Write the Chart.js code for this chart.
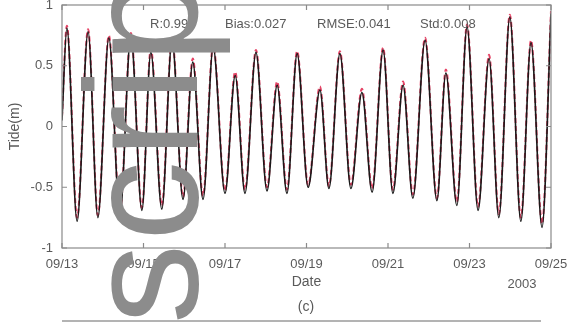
<!DOCTYPE html>
<html>
<head>
<meta charset="utf-8">
<script src="https://cdn.jsdelivr.net/npm/chart.js@4/dist/chart.umd.min.js"></script>
<style>
  html, body { margin: 0; padding: 0; background: #ffffff; }
  #wrap { width: 571px; height: 324px; position: relative; }
</style>
</head>
<body>
<div id="wrap"><canvas id="c" width="571" height="324"></canvas></div>
<script>
// Time of each high / low water, in days after 09/13 00:00
const dayOffsets = [0, 0.12, 0.37, 0.64, 0.88, 1.15, 1.42, 1.69, 1.96, 2.18, 2.45, 2.70, 2.97, 3.21, 3.46, 3.71, 4.00, 4.25, 4.49, 4.76, 5.03, 5.28, 5.52, 5.77, 6.04, 6.33, 6.55, 6.82, 7.09, 7.36, 7.61, 7.88, 8.12, 8.37, 8.61, 8.91, 9.20, 9.42, 9.69, 9.94, 10.21, 10.48, 10.72, 10.99, 11.26, 11.51, 11.78, 12.0];

// Observed tide level (m)
const observed = [0.05, 0.81, -0.78, 0.78, -0.75, 0.73, -0.73, 0.75, -0.69, 0.61, -0.68, 0.71, -0.60, 0.53, -0.60, 0.65, -0.55, 0.42, -0.55, 0.61, -0.53, 0.34, -0.55, 0.60, -0.50, 0.30, -0.51, 0.60, -0.51, 0.28, -0.54, 0.63, -0.55, 0.34, -0.59, 0.71, -0.61, 0.44, -0.65, 0.82, -0.69, 0.56, -0.75, 0.90, -0.78, 0.69, -0.83, 0.93];

// Simulated tide level (m)
const simulated = [0.08, 0.83, -0.75, 0.80, -0.73, 0.75, -0.70, 0.77, -0.67, 0.64, -0.65, 0.73, -0.58, 0.56, -0.57, 0.67, -0.53, 0.45, -0.52, 0.63, -0.50, 0.37, -0.52, 0.62, -0.48, 0.33, -0.49, 0.62, -0.48, 0.31, -0.51, 0.65, -0.52, 0.37, -0.56, 0.73, -0.59, 0.47, -0.62, 0.84, -0.66, 0.59, -0.72, 0.92, -0.75, 0.71, -0.80, 0.95];

const dateTicks = [0, 2, 4, 6, 8, 10, 12];
const dateLabels = ['09/13', '09/15', '09/17', '09/19', '09/21', '09/23', '09/25'];
const levelTicks = [-1, -0.5, 0, 0.5, 1];
const levelLabels = ['-1', '-0.5', '0', '0.5', '1'];

const statsText = ['R:0.998', 'Bias:0.027', 'RMSE:0.041', 'Std:0.008'];
const yearText = '2003';
const panelText = '(c)';
const stampText = 'script';

const FONT = '"Liberation Sans", Arial, sans-serif';
const INK = '#5a5a5a';
const FRAME = '#8a8a8a';

const toPoints = (xs, ys) => xs.map((x, i) => ({ x, y: ys[i] }));

// Frame, inward tick marks, statistics and extra captions
const decorations = {
  id: 'decorations',
  afterDatasetsDraw(chart) {
    const { ctx, chartArea: a, scales: { x, y } } = chart;
    ctx.save();
    ctx.strokeStyle = FRAME;
    ctx.lineWidth = 1.2;
    ctx.strokeRect(a.left, a.top, a.right - a.left, a.bottom - a.top);

    ctx.beginPath();
    dateTicks.forEach(v => {
      const px = x.getPixelForValue(v);
      ctx.moveTo(px, a.bottom); ctx.lineTo(px, a.bottom - 5);
      ctx.moveTo(px, a.top); ctx.lineTo(px, a.top + 5);
    });
    levelTicks.forEach(v => {
      const py = y.getPixelForValue(v);
      ctx.moveTo(a.left, py); ctx.lineTo(a.left + 5, py);
      ctx.moveTo(a.right, py); ctx.lineTo(a.right - 5, py);
    });
    ctx.stroke();

    // statistics line inside the plot
    ctx.fillStyle = INK;
    ctx.font = '13px ' + FONT;
    ctx.textBaseline = 'middle';
    ctx.textAlign = 'left';
    const starts = [150, 225, 317, 420];
    statsText.forEach((t, i) => ctx.fillText(t, starts[i], 24));

    // year and panel captions
    ctx.textAlign = 'center';
    ctx.font = '13px ' + FONT;
    ctx.fillText(yearText, 522, 284);
    ctx.font = '14px ' + FONT;
    ctx.fillText(panelText, 306, 307);

    // top edge of the next panel
    ctx.strokeStyle = '#9a9a9a';
    ctx.lineWidth = 1.5;
    ctx.beginPath();
    ctx.moveTo(a.left, 321); ctx.lineTo(a.right - 10, 321);
    ctx.stroke();
    ctx.restore();
  },
  afterDraw(chart) {
    // large grey stamp running up the left part of the page
    const { ctx } = chart;
    ctx.save();
    ctx.translate(197, 324);
    ctx.rotate(-Math.PI / 2);
    ctx.fillStyle = '#8c8c8c';
    ctx.font = '160px ' + FONT;
    ctx.letterSpacing = '3px';
    ctx.textAlign = 'left';
    ctx.textBaseline = 'alphabetic';
    ctx.fillText(stampText, 0, 0);
    ctx.restore();
  }
};

new Chart(document.getElementById('c'), {
  type: 'line',
  data: {
    datasets: [
      {
        label: 'Observed',
        data: toPoints(dayOffsets, observed),
        borderColor: '#1a1a1a',
        borderWidth: 1.6,
        pointRadius: 0,
        cubicInterpolationMode: 'monotone',
        fill: false
      },
      {
        label: 'Simulated',
        data: toPoints(dayOffsets, simulated),
        borderColor: 'rgba(225, 35, 75, 0.85)',
        borderWidth: 2,
        borderDash: [5, 3],
        pointRadius: 0,
        cubicInterpolationMode: 'monotone',
        fill: false
      }
    ]
  },
  options: {
    responsive: false,
    animation: false,
    events: [],
    layout: { padding: { top: 5, right: 20, bottom: 0, left: 0 } },
    plugins: { legend: { display: false }, tooltip: { enabled: false } },
    scales: {
      x: {
        type: 'linear',
        min: 0,
        max: 12,
        afterFit: s => { s.height = 76; s.paddingLeft = 0; s.paddingRight = 0; },
        afterBuildTicks: s => { s.ticks = dateTicks.map(v => ({ value: v })); },
        grid: { display: false, drawTicks: false },
        border: { display: false },
        ticks: {
          padding: 9,
          color: INK,
          font: { family: FONT, size: 13 },
          maxRotation: 0,
          autoSkip: false,
          callback: v => dateLabels[dateTicks.indexOf(v)]
        },
        title: {
          display: true,
          text: 'Date',
          color: INK,
          font: { family: FONT, size: 14 },
          padding: { top: 0, bottom: 33 }
        }
      },
      y: {
        min: -1,
        max: 1,
        afterFit: s => { s.width = 62; s.paddingTop = 0; s.paddingBottom = 0; },
        afterBuildTicks: s => { s.ticks = levelTicks.map(v => ({ value: v })); },
        grid: { display: false, drawTicks: false },
        border: { display: false },
        ticks: {
          padding: 9,
          color: INK,
          font: { family: FONT, size: 13 },
          callback: v => levelLabels[levelTicks.indexOf(v)]
        },
        title: {
          display: true,
          text: 'Tide(m)',
          color: INK,
          font: { family: FONT, size: 14 },
          padding: { top: 7, bottom: 0 }
        }
      }
    }
  },
  plugins: [decorations]
});
</script>
</body>
</html>
